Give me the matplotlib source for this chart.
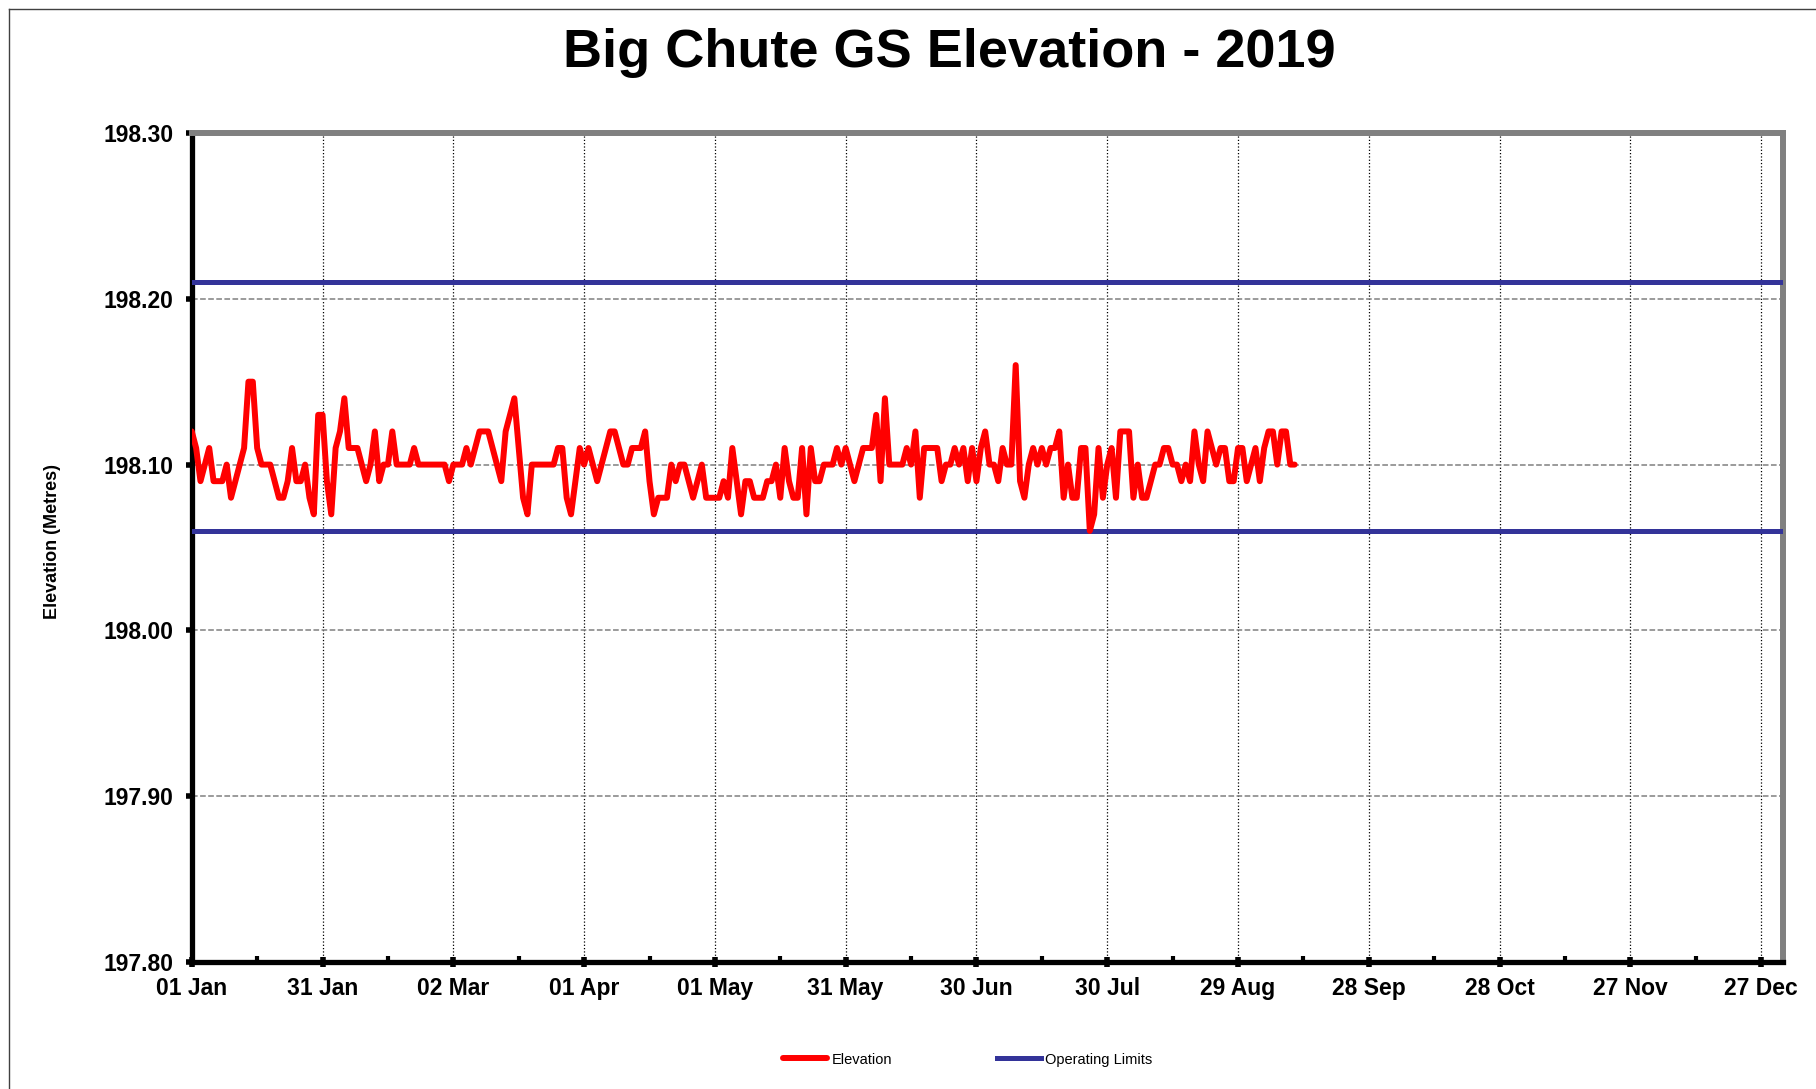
"""
Big Chute GS Elevation - 2019
Daily water elevation with operating limits
"""

import matplotlib
matplotlib.use('Agg')
import matplotlib.pyplot as plt
import matplotlib.dates as mdates
from matplotlib.lines import Line2D
import numpy as np
import pandas as pd

plt.rcParams['font.family'] = ['Liberation Sans', 'DejaVu Sans']

# daily elevations (metres), from 01 Jan 2019
elevation = [
    198.12, 198.11, 198.09, 198.10, 198.11, 198.09, 198.09, 198.09, 198.10, 198.08,
    198.09, 198.10, 198.11, 198.15, 198.15, 198.11, 198.10, 198.10, 198.10, 198.09,
    198.08, 198.08, 198.09, 198.11, 198.09, 198.09, 198.10, 198.08, 198.07, 198.13,
    198.13, 198.09, 198.07, 198.11, 198.12, 198.14, 198.11, 198.11, 198.11, 198.10,
    198.09, 198.10, 198.12, 198.09, 198.10, 198.10, 198.12, 198.10, 198.10, 198.10,
    198.10, 198.11, 198.10, 198.10, 198.10, 198.10, 198.10, 198.10, 198.10, 198.09,
    198.10, 198.10, 198.10, 198.11, 198.10, 198.11, 198.12, 198.12, 198.12, 198.11,
    198.10, 198.09, 198.12, 198.13, 198.14, 198.11, 198.08, 198.07, 198.10, 198.10,
    198.10, 198.10, 198.10, 198.10, 198.11, 198.11, 198.08, 198.07, 198.09, 198.11,
    198.10, 198.11, 198.10, 198.09, 198.10, 198.11, 198.12, 198.12, 198.11, 198.10,
    198.10, 198.11, 198.11, 198.11, 198.12, 198.09, 198.07, 198.08, 198.08, 198.08,
    198.10, 198.09, 198.10, 198.10, 198.09, 198.08, 198.09, 198.10, 198.08, 198.08,
    198.08, 198.08, 198.09, 198.08, 198.11, 198.09, 198.07, 198.09, 198.09, 198.08,
    198.08, 198.08, 198.09, 198.09, 198.10, 198.08, 198.11, 198.09, 198.08, 198.08,
    198.11, 198.07, 198.11, 198.09, 198.09, 198.10, 198.10, 198.10, 198.11, 198.10,
    198.11, 198.10, 198.09, 198.10, 198.11, 198.11, 198.11, 198.13, 198.09, 198.14,
    198.10, 198.10, 198.10, 198.10, 198.11, 198.10, 198.12, 198.08, 198.11, 198.11,
    198.11, 198.11, 198.09, 198.10, 198.10, 198.11, 198.10, 198.11, 198.09, 198.11,
    198.09, 198.11, 198.12, 198.10, 198.10, 198.09, 198.11, 198.10, 198.10, 198.16,
    198.09, 198.08, 198.10, 198.11, 198.10, 198.11, 198.10, 198.11, 198.11, 198.12,
    198.08, 198.10, 198.08, 198.08, 198.11, 198.11, 198.06, 198.07, 198.11, 198.08,
    198.10, 198.11, 198.08, 198.12, 198.12, 198.12, 198.08, 198.10, 198.08, 198.08,
    198.09, 198.10, 198.10, 198.11, 198.11, 198.10, 198.10, 198.09, 198.10, 198.09,
    198.12, 198.10, 198.09, 198.12, 198.11, 198.10, 198.11, 198.11, 198.09, 198.09,
    198.11, 198.11, 198.09, 198.10, 198.11, 198.09, 198.11, 198.12, 198.12, 198.10,
    198.12, 198.12, 198.10, 198.10,
]
dates = pd.date_range('2019-01-01', periods=len(elevation), freq='D')

operating_limits = [198.06, 198.21]

tick_dates = pd.date_range('2019-01-01', periods=13, freq='30D')
minor_dates = pd.date_range('2019-01-16', periods=12, freq='30D')
y_ticks = [197.80, 197.90, 198.00, 198.10, 198.20, 198.30]

fig = plt.figure(figsize=(18.16, 10.89), dpi=100)
ax = fig.add_axes([0.1056, 0.1166, 0.8762, 0.7613])

# operating limits
for i, lim in enumerate(operating_limits):
    ax.axhline(lim, color='#333399', linewidth=3.6, zorder=3,
               label='Operating Limits' if i == 0 else None)

ax.plot(dates, elevation, color='#FF0000', linewidth=4.3, zorder=4,
        solid_joinstyle='round', solid_capstyle='round', label='Elevation')

ax.set_xlim(pd.Timestamp('2019-01-01'), pd.Timestamp('2020-01-01'))
ax.set_ylim(197.80, 198.30)

ax.set_xticks(tick_dates)
ax.set_xticks(minor_dates, minor=True)
ax.xaxis.set_major_formatter(mdates.DateFormatter('%d %b'))
ax.set_yticks(y_ticks)
ax.set_yticklabels([f'{v:.2f}' for v in y_ticks])

ax.tick_params(axis='x', which='major', direction='inout', length=7, width=4,
               labelsize=16.5, pad=7)
ax.tick_params(axis='x', which='minor', direction='in', length=4, width=3)
ax.tick_params(axis='y', which='major', direction='out', length=4, width=4,
               labelsize=16.5, pad=9)
for lab in ax.get_xticklabels() + ax.get_yticklabels():
    lab.set_fontweight('bold')

# grid
ax.grid(True, axis='x', which='major', color='black', linestyle=':', linewidth=0.9)
ax.grid(True, axis='y', which='major', color='#808080', linestyle='--', linewidth=1.1)
ax.set_axisbelow(True)

for side in ['left', 'bottom']:
    ax.spines[side].set_color('black')
    ax.spines[side].set_linewidth(3.8)
for side in ['top', 'right']:
    ax.spines[side].set_color('#808080')
    ax.spines[side].set_linewidth(4.3)

ax.set_ylabel('Elevation (Metres)', fontsize=13, fontweight='bold')
ax.yaxis.set_label_coords(-0.082, 0.507)

fig.text(0.523, 0.951, 'Big Chute GS Elevation - 2019', ha='center', va='center',
         fontsize=39, fontweight='bold')

handles, labels = ax.get_legend_handles_labels()
order = [labels.index('Elevation'), labels.index('Operating Limits')]
fig.legend([handles[i] for i in order], [labels[i] for i in order],
           loc='center', bbox_to_anchor=(0.533, 0.027), ncol=2, frameon=False,
           fontsize=10.5, handlelength=3.0, columnspacing=7.2, handletextpad=0.3)

# outer chart border
fig.add_artist(Line2D([8.5 / 1816, 1.0], [1 - 8.5 / 1089, 1 - 8.5 / 1089],
                      transform=fig.transFigure, color='#404040', linewidth=1))
fig.add_artist(Line2D([8.5 / 1816, 8.5 / 1816], [0.0, 1 - 8.5 / 1089],
                      transform=fig.transFigure, color='#404040', linewidth=1))

fig.savefig('out.png', dpi=100)
plt.close(fig)
